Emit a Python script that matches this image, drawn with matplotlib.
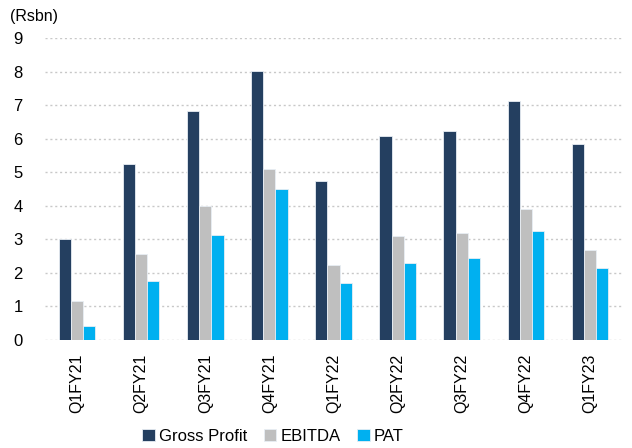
import matplotlib
matplotlib.use('Agg')
import matplotlib.pyplot as plt
import numpy as np

plt.rcParams['font.family'] = ['Liberation Sans', 'DejaVu Sans']

quarters = ['Q1FY21', 'Q2FY21', 'Q3FY21', 'Q4FY21', 'Q1FY22',
            'Q2FY22', 'Q3FY22', 'Q4FY22', 'Q1FY23']
gross_profit = [3.00, 5.25, 6.82, 8.03, 4.75, 6.07, 6.22, 7.12, 5.83]
ebitda = [1.17, 2.55, 4.00, 5.09, 2.23, 3.10, 3.18, 3.90, 2.68]
pat = [0.42, 1.76, 3.12, 4.49, 1.70, 2.29, 2.45, 3.24, 2.14]

series = [('Gross Profit', gross_profit, '#243F60'),
          ('EBITDA', ebitda, '#BFBFBF'),
          ('PAT', pat, '#00B0F0')]

fig = plt.figure(figsize=(6.32, 4.48), dpi=100)
ax = fig.add_axes([45 / 632, 1 - 340 / 448, 577 / 632, 302 / 448])

x = np.arange(len(quarters))
width = 0.19
for i, (name, vals, color) in enumerate(series):
    ax.bar(x + (i - 1) * width, vals, width, color=color, label=name,
           edgecolor='#E8EEF4', linewidth=0.6, zorder=3)

ax.set_xlim(-0.5, len(quarters) - 0.5)
ax.set_ylim(0, 9)
ax.set_yticks(range(0, 10))
ax.yaxis.grid(True, linestyle=(0, (1.5, 2)), color='#C8C8C8', linewidth=1.0)
ax.set_axisbelow(True)
for s in ax.spines.values():
    s.set_visible(False)

ax.set_xticks(x)
ax.set_xticklabels(quarters, rotation=90)
ax.tick_params(axis='y', length=0, labelsize=12, colors='black', pad=16)
ax.tick_params(axis='x', length=0, labelsize=11.5, colors='black', pad=10)

fig.text(10 / 632, 1 - 17 / 448, '(Rsbn)', fontsize=11.5, va='center', ha='left')

leg = ax.legend(loc='center', bbox_to_anchor=(273 / 632, 1 - 436 / 448),
                bbox_transform=fig.transFigure, ncol=3, frameon=False,
                fontsize=12, handlelength=0.75, handleheight=0.75,
                handletextpad=0.25, columnspacing=1.0)

fig.savefig('out.png', dpi=100)
